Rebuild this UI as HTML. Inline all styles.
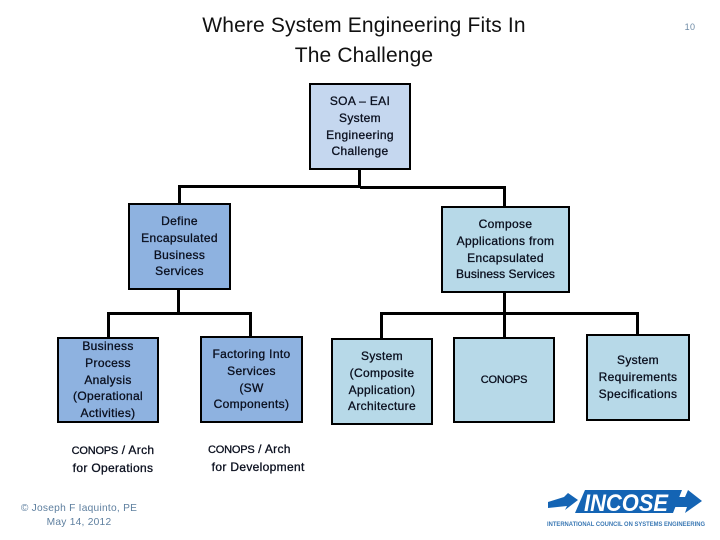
<!DOCTYPE html>
<html><head><meta charset="utf-8"><style>
html,body{margin:0;padding:0;background:#fff}
#p{position:relative;width:720px;height:540px;overflow:hidden;background:#fff;font-family:"Liberation Sans",sans-serif}
.b,.t{position:absolute;box-sizing:border-box;display:flex;align-items:center;justify-content:center;text-align:center}
.b{border:2px solid #000;color:#0a0f1e;font-size:12px;line-height:16.7px;letter-spacing:.33px;-webkit-text-stroke:.3px #0a0f1e}
.blue{background:#8eb2e0}.lb{background:#c5d7ef}.cy{background:#b7d9e8}
.t{color:#0a0f1e;font-size:12px;line-height:17px;letter-spacing:.33px;-webkit-text-stroke:.3px #0a0f1e}
.l{position:absolute;background:#000}
.c{font-size:11px;letter-spacing:-.2px}
</style></head><body><div id="p">
<div class="t" style="left:164px;top:11px;width:400px;height:59px;font-size:21px;line-height:29.5px;color:#111;-webkit-text-stroke:0;letter-spacing:.15px">Where System Engineering Fits In<br>The Challenge</div>
<div class="t" style="left:680px;top:20px;width:20px;height:14px;font-size:9px;color:#6d8aa5;-webkit-text-stroke:0">10</div>

<div class="l" style="left:358px;top:168px;width:3px;height:19px"></div>
<div class="l" style="left:178px;top:185px;width:182px;height:3px"></div>
<div class="l" style="left:360px;top:186px;width:146px;height:3px"></div>
<div class="l" style="left:178px;top:186px;width:3px;height:19px"></div>
<div class="l" style="left:503px;top:186px;width:3px;height:22px"></div>

<div class="l" style="left:177px;top:288px;width:3px;height:26px"></div>
<div class="l" style="left:107px;top:312px;width:145px;height:3px"></div>
<div class="l" style="left:107px;top:312px;width:3px;height:27px"></div>
<div class="l" style="left:249px;top:312px;width:3px;height:26px"></div>

<div class="l" style="left:503px;top:291px;width:3px;height:48px"></div>
<div class="l" style="left:380px;top:312px;width:259px;height:3px"></div>
<div class="l" style="left:380px;top:312px;width:3px;height:28px"></div>
<div class="l" style="left:636px;top:312px;width:3px;height:24px"></div>

<div class="b lb" style="left:309px;top:83px;width:102px;height:87px">SOA – EAI<br>System<br>Engineering<br>Challenge</div>
<div class="b blue" style="left:128px;top:203px;width:103px;height:87px">Define<br>Encapsulated<br>Business<br>Services</div>
<div class="b cy" style="left:441px;top:206px;width:129px;height:87px"><div>Compose<br>Applications from<br>Encapsulated<br><span style="letter-spacing:.05px">Business Services</span></div></div>
<div class="b blue" style="left:57px;top:337px;width:102px;height:86px">Business<br>Process<br>Analysis<br>(Operational<br>Activities)</div>
<div class="b blue" style="left:200px;top:336px;width:103px;height:87px">Factoring Into<br>Services<br>(SW<br>Components)</div>
<div class="b cy" style="left:331px;top:338px;width:102px;height:87px">System<br>(Composite<br>Application)<br>Architecture</div>
<div class="b cy" style="left:453px;top:337px;width:102px;height:86px"><span class="c">CONOPS</span></div>
<div class="b cy" style="left:586px;top:334px;width:104px;height:87px">System<br>Requirements<br>Specifications</div>

<div class="t" style="left:53px;top:442px;width:120px;height:34px"><div><span class="c">CONOPS</span> / Arch<br>for Operations</div></div>
<div class="t" style="left:198px;top:441px;width:120px;height:34px;display:block;text-align:left;padding-left:10px;box-sizing:border-box;white-space:nowrap"><span class="c">CONOPS</span> / Arch<br>&nbsp;for Development</div>
<div class="t" style="left:9px;top:501px;width:140px;height:30px;font-size:10.2px;line-height:14px;letter-spacing:.25px;color:#5e7f9f;-webkit-text-stroke:0">© Joseph F Iaquinto, PE<br>May 14, 2012</div>

<svg style="position:absolute;left:530px;top:480px" width="190" height="60" viewBox="0 0 190 60">
<polygon points="18,22 34,17 38,13 48,20 35,30 37,26 18,28" fill="#1464b4"/>
<polygon points="55,10 152,10 143,33 45,33" fill="#1464b4"/>
<polygon points="147,17 155,17 158,10 172,21 155,33 157,27 142,27" fill="#1464b4"/>
<text x="96" y="31" text-anchor="middle" font-family="Liberation Sans" font-size="24" font-weight="bold" font-style="italic" fill="#fff" textLength="84" lengthAdjust="spacingAndGlyphs">INCOSE</text>
<text x="96" y="46" text-anchor="middle" font-family="Liberation Sans" font-size="6" font-weight="bold" fill="#3a78b4" textLength="158" lengthAdjust="spacingAndGlyphs">INTERNATIONAL COUNCIL ON SYSTEMS ENGINEERING</text>
</svg>
</div></body></html>
